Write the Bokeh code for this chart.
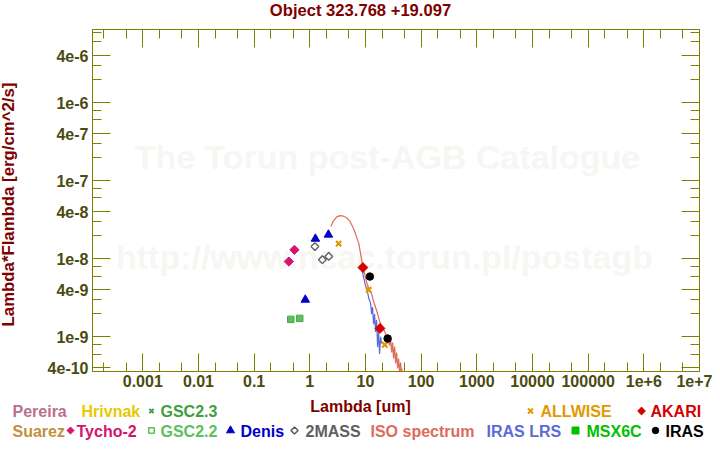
import math
from bokeh.plotting import figure
from bokeh.layouts import column, row
from bokeh.models import Range1d, FixedTicker, LogAxis, Label, CustomJSTickFormatter, ColumnDataSource
from bokeh.core.properties import value
from bokeh.embed import file_html
from bokeh.resources import INLINE

# ---------------- data ----------------
title_text = "Object 323.768 +19.097"
x_label = "Lambda [um]"
y_label = "Lambda*Flambda [erg/cm^2/s]"
watermark_lines = ["The Torun post-AGB Catalogue", "http://www.ncac.torun.pl/postagb"]

x_tick_vals = [1e-3, 1e-2, 1e-1, 1, 10, 100, 1e3, 1e4, 1e5, 1e6, 1e7]
x_tick_labels = ["0.001", "0.01", "0.1", "1", "10", "100", "1000", "10000", "100000", "1e+6", "1e+7"]
x_minor_vals = [2e-4, 5e-4, 2e-3, 5e-3, 2e-2, 5e-2, 0.2, 0.5, 2, 5, 20, 50, 200, 500,
                2e3, 5e3, 2e4, 5e4, 2e5, 5e5, 2e6, 5e6]
y_tick_vals = [4e-10, 1e-9, 4e-9, 1e-8, 4e-8, 1e-7, 4e-7, 1e-6, 4e-6]
y_tick_labels = ["4e-10", "1e-9", "4e-9", "1e-8", "4e-8", "1e-7", "4e-7", "1e-6", "4e-6"]
y_minor_vals = [6e-10, 8e-10, 2e-9, 3e-9, 6e-9, 8e-9, 2e-8, 3e-8, 6e-8, 8e-8,
                2e-7, 3e-7, 6e-7, 8e-7, 2e-6, 3e-6, 6e-6, 8e-6]

tycho_wl = [0.42, 0.53]
tycho_f = [9.2e-9, 1.30e-8]
gsc22_wl = [0.455, 0.66]
gsc22_f = [1.67e-9, 1.72e-9]
denis_wl = [0.83, 1.26, 2.16]
denis_f = [2.98e-9, 1.80e-8, 2.03e-8]
mass2_wl = [1.235, 1.68, 2.19]
mass2_f = [1.43e-8, 9.7e-9, 1.07e-8]
allwise_wl = [3.3, 11.4, 22.3]
allwise_f = [1.56e-8, 4.0e-9, 7.9e-10]
akari_wl = [9.0, 18.2]
akari_f = [7.7e-9, 1.28e-9]
iras_wl = [12.0, 25.0]
iras_f = [5.9e-9, 9.5e-10]

iso_wl = [2.39, 2.64, 3.02, 3.46, 3.99, 4.57, 5.24, 5.86, 6.29, 6.92, 7.61, 8.16, 8.76,
          9.52, 10.47, 11.51, 12.88, 13.81, 15.19, 16.51, 18.16, 20.9, 22.98, 25.7,
          27.1, 28.3, 29.5, 30.7, 32.0, 33.4, 34.8, 36.3, 37.8, 39.4, 41.1, 42.8, 44.6, 45.4]
iso_f = [2.59e-8, 3.03e-8, 3.41e-8, 3.56e-8, 3.52e-8, 3.35e-8, 3.03e-8, 2.59e-8, 2.31e-8,
         1.89e-8, 1.56e-8, 1.16e-8, 8.63e-9, 6.73e-9, 5.01e-9, 4.12e-9, 3.56e-9, 2.92e-9,
         2.39e-9, 1.97e-9, 1.54e-9, 1.27e-9, 1.09e-9, 8.97e-10, 7.73e-10, 9.51e-10,
         6.28e-10, 8.44e-10, 5.26e-10, 7.50e-10, 4.54e-10, 6.28e-10, 3.92e-10, 5.26e-10,
         3.48e-10, 4.68e-10, 3.18e-10, 3.9e-10]
lrs_wl = [8.51, 9.24, 10.04, 10.91, 11.61, 12.35, 12.88, 13.42, 13.98, 14.58, 15.19,
          15.84, 16.51, 17.2, 17.93, 18.69, 19.48]
lrs_f = [7.7e-9, 5.8e-9, 4.5e-9, 3.7e-9, 3.0e-9, 2.7e-9, 1.95e-9, 2.4e-9, 1.45e-9,
         1.95e-9, 1.15e-9, 1.65e-9, 7.4e-10, 1.15e-9, 6.0e-10, 1.0e-9, 8.2e-10]

legend_names = ["Pereira", "Hrivnak", "GSC2.3", "ALLWISE", "AKARI",
                "Suarez", "Tycho-2", "GSC2.2", "Denis", "2MASS", "ISO spectrum",
                "IRAS LRS", "MSX6C", "IRAS"]
legend_colors = ["#b87090", "#e8c800", "#3f9f3f", "#e39800", "#d40000",
                 "#c49040", "#d4146e", "#5cc05c", "#0000cc", "#606060", "#e06b5a",
                 "#5b6bd6", "#00c000", "#000000"]
legend_markers = [None, None, "x", "x", "square", None, "square", "square", "triangle",
                  "square", None, None, "square", "circle"]

# ---------------- layout (pixel coords of the reference picture) ----------------
FL, FR, FT, FB = 92, 699, 29, 371
W = 712
LEFT_W = 22
TOP_H = 20
MAIN_H = 374
BOT_H = 48
TXT_DY = 5.5   # text glyphs render this much below their anchor; compensate
legend_text_x = [12, 81, 160, 540, 650, 12, 76, 160, 240, 305, 370, 486, 586, 665]
legend_sym_x = [0, 0, 151, 530, 641, 0, 70, 151, 230, 294, 0, 0, 575, 655]
legend_sym_size = [0, 0, 6, 7, 5.5, 0, 5, 5.5, 8, 5, 0, 0, 7, 6.5]
legend_sym_angle = [0, 0, 0, 0, 45, 0, 45, 0, 0, 45, 0, 0, 0, 0]
legend_sym_hollow = [0, 0, 0, 0, 0, 0, 0, 1, 0, 1, 0, 0, 0, 0]
legend_row = [0, 0, 0, 0, 0, 1, 1, 1, 1, 1, 1, 1, 1, 1]
row_base = [416, 436]
row_mid = [410.5, 430]

OLIVE = "#808000"
TICKC = "#4b4b10"
DARKRED = "#800000"
FONT = "Liberation Sans"

p = figure(width=W - LEFT_W, height=MAIN_H, x_axis_type="log", y_axis_type="log",
           x_range=Range1d(1.25e-4, 1e7), y_range=Range1d(3.59e-10, 8.63e-6),
           output_backend="svg", toolbar_location=None, title=None,
           min_border_left=FL - LEFT_W, min_border_right=W - FR,
           min_border_top=FT - TOP_H, min_border_bottom=MAIN_H - (FB - TOP_H))
p.frame_align = False
p.grid.visible = False
p.outline_line_color = OLIVE
p.outline_line_width = 1
p.background_fill_color = "white"
p.border_fill_color = "white"

xfmt = CustomJSTickFormatter(args=dict(vals=x_tick_vals, labs=x_tick_labels), code="""
let best = 0, bd = Infinity;
for (let i = 0; i < vals.length; i++) {
  const d = Math.abs(Math.log10(tick) - Math.log10(vals[i]));
  if (d < bd) { bd = d; best = i; }
}
return labs[best];
""")
yfmt = CustomJSTickFormatter(args=dict(vals=y_tick_vals, labs=y_tick_labels), code="""
let best = 0, bd = Infinity;
for (let i = 0; i < vals.length; i++) {
  const d = Math.abs(Math.log10(tick) - Math.log10(vals[i]));
  if (d < bd) { bd = d; best = i; }
}
return labs[best];
""")
blank = CustomJSTickFormatter(code="return '';")


def style_axis(ax, ticker, fmt, show):
    ax.ticker = ticker
    ax.formatter = fmt
    ax.axis_line_color = OLIVE
    ax.major_tick_line_color = OLIVE
    ax.minor_tick_line_color = OLIVE
    ax.major_tick_in = 18
    ax.major_tick_out = 0
    ax.minor_tick_in = 9
    ax.minor_tick_out = 0
    ax.major_label_text_font = FONT
    ax.major_label_text_font_style = "bold"
    if show:
        ax.major_label_text_font_size = "16px"
        ax.major_label_text_color = TICKC
    else:
        ax.major_label_text_font_size = "0px"
        ax.major_label_text_color = None
        ax.major_label_standoff = 0


style_axis(p.xaxis[0], FixedTicker(ticks=x_tick_vals, minor_ticks=x_minor_vals), xfmt, True)
p.xaxis[0].major_label_standoff = 3
style_axis(p.yaxis[0], FixedTicker(ticks=y_tick_vals, minor_ticks=y_minor_vals), yfmt, True)
p.yaxis[0].major_label_standoff = 4

top = LogAxis()
style_axis(top, FixedTicker(ticks=x_tick_vals, minor_ticks=x_minor_vals), blank, False)
p.add_layout(top, "above")
right = LogAxis()
style_axis(right, FixedTicker(ticks=y_tick_vals, minor_ticks=y_minor_vals), blank, False)
p.add_layout(right, "right")

# watermarks (inside frame)
for txt, cx, base in zip(watermark_lines, [387, 384], [175, 275]):
    p.add_layout(Label(x=cx - FL, y=FB - base, x_units="screen", y_units="screen", text=txt,
                       text_font=FONT, text_font_size="34px", text_font_style="bold",
                       text_color="#f7f6f2", text_align="center", level="underlay"))

# data
p.line(lrs_wl, lrs_f, line_color="#5b6bd6", line_width=1.2)
p.line(iso_wl, iso_f, line_color="#e06b5a", line_width=1.2)
p.scatter(tycho_wl, tycho_f, marker="square", angle=math.pi / 4, size=6.5,
          fill_color="#d4146e", line_color="#d4146e")
p.scatter(gsc22_wl, gsc22_f, marker="square", size=6.5,
          fill_color="#5cc05c", line_color="#46aa46", line_width=1)
p.scatter(denis_wl, denis_f, marker="triangle", size=8.5,
          fill_color="#0000cc", line_color="#0000cc")
p.scatter(mass2_wl, mass2_f, marker="square", angle=math.pi / 4, size=5.5,
          fill_color=None, line_color="#606060", line_width=1.4)
p.scatter(allwise_wl, allwise_f, marker="x", size=7.5,
          line_color="#e39800", line_width=2.2)
p.scatter(akari_wl, akari_f, marker="square", angle=math.pi / 4, size=7,
          fill_color="#d40000", line_color="#d40000")
p.scatter(iras_wl, iras_f, marker="circle", size=7.5,
          fill_color="#000000", line_color="#000000")


def strip(w, h, x0, y0):
    s = figure(width=w, height=h, x_range=Range1d(x0, x0 + w), y_range=Range1d(y0 + h, y0),
               x_axis_type=None, y_axis_type=None, output_backend="svg",
               toolbar_location=None, title=None, min_border=0)
    s.frame_align = False
    s.grid.visible = False
    s.outline_line_color = None
    s.background_fill_color = "white"
    s.border_fill_color = "white"
    return s


# title strip
ts = strip(W, TOP_H, 0, 0)
ts.text(x=[360], y=[15 - TXT_DY], text=[title_text], text_color=DARKRED, text_font=value(FONT),
        text_font_size=value("16.6px"), text_font_style="bold", text_align="center",
        text_baseline="alphabetic")

# left strip: y axis label
ls = strip(LEFT_W, MAIN_H, 0, TOP_H)
ls.text(x=[13.5 - TXT_DY], y=[204], text=[y_label], text_color=DARKRED, text_font=value(FONT),
        text_font_size=value("16.8px"), text_font_style="bold", text_align="center",
        text_baseline="alphabetic", angle=math.pi / 2)

# bottom strip: x label + legend
bs = strip(W, BOT_H, 0, TOP_H + MAIN_H)
bs.text(x=[360], y=[411 - TXT_DY], text=[x_label], text_color=DARKRED, text_font=value(FONT),
        text_font_size=value("16px"), text_font_style="bold", text_align="center",
        text_baseline="alphabetic")
leg = ColumnDataSource(dict(
    x=legend_text_x, y=[row_base[r] - TXT_DY for r in legend_row], text=legend_names,
    color=legend_colors))
bs.text(x="x", y="y", text="text", text_color="color", source=leg, text_font=value(FONT),
        text_font_size=value("16px"), text_font_style="bold", text_baseline="alphabetic")
for mk, col, sx, sz, ang, hol, r in zip(legend_markers, legend_colors, legend_sym_x,
                                         legend_sym_size, legend_sym_angle,
                                         legend_sym_hollow, legend_row):
    if mk is None:
        continue
    kw = dict(marker=mk, size=sz, angle=math.radians(ang), line_color=col)
    if mk == "x":
        kw["line_width"] = 2
    elif hol:
        kw["fill_color"] = "white"
        kw["line_width"] = 1.6
    else:
        kw["fill_color"] = col
    bs.scatter([sx], [row_mid[r]], **kw)

layout = column(ts, row(ls, p, spacing=0), bs, spacing=0)
open("out.html", "w").write(file_html(layout, INLINE))
